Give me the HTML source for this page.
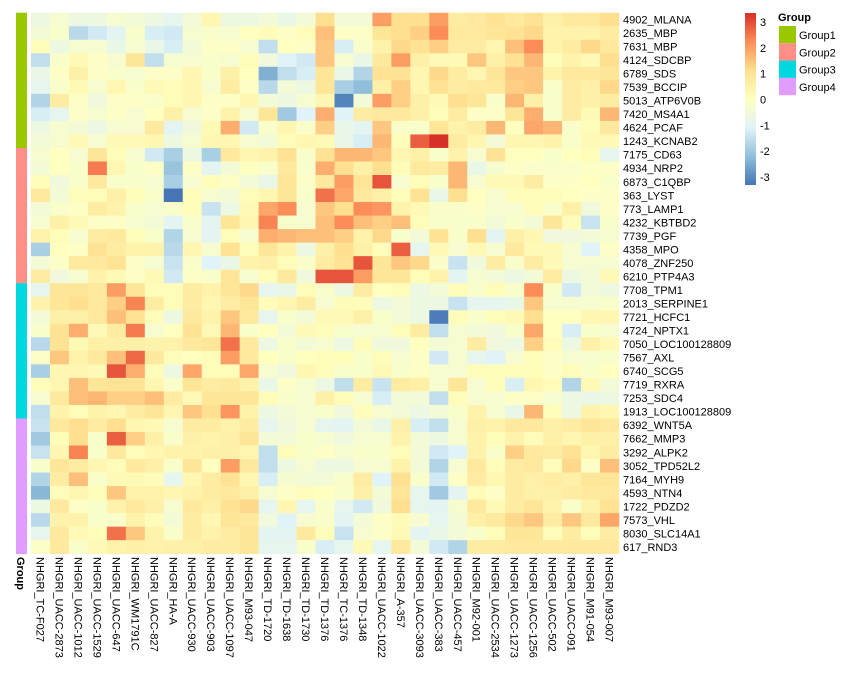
<!DOCTYPE html>
<html><head><meta charset="utf-8"><style>
html,body{margin:0;padding:0;background:#fff;width:860px;height:683px;overflow:hidden}
svg{display:block;font-family:"Liberation Sans",sans-serif}
</style></head><body>
<svg id="chart" width="860" height="683"></svg>
<script>
const cols=["NHGRI_TC-F027","NHGRI_UACC-2873","NHGRI_UACC-1012","NHGRI_UACC-1529","NHGRI_UACC-647","NHGRI_WM1791C","NHGRI_UACC-827","NHGRI_HA-A","NHGRI_UACC-930","NHGRI_UACC-903","NHGRI_UACC-1097","NHGRI_M93-047","NHGRI_TD-1720","NHGRI_TD-1638","NHGRI_TD-1730","NHGRI_TD-1376","NHGRI_TC-1376","NHGRI_TD-1348","NHGRI_UACC-1022","NHGRI_A-357","NHGRI_UACC-3093","NHGRI_UACC-383","NHGRI_UACC-457","NHGRI_M92-001","NHGRI_UACC-2534","NHGRI_UACC-1273","NHGRI_UACC-1256","NHGRI_UACC-502","NHGRI_UACC-091","NHGRI_M91-054","NHGRI_M93-007"];
const rows=["4902_MLANA","2635_MBP","7631_MBP","4124_SDCBP","6789_SDS","7539_BCCIP","5013_ATP6V0B","7420_MS4A1","4624_PCAF","1243_KCNAB2","7175_CD63","4934_NRP2","6873_C1QBP","363_LYST","773_LAMP1","4232_KBTBD2","7739_PGF","4358_MPO","4078_ZNF250","6210_PTP4A3","7708_TPM1","2013_SERPINE1","7721_HCFC1","4724_NPTX1","7050_LOC100128809","7567_AXL","6740_SCG5","7719_RXRA","7253_SDC4","1913_LOC100128809","6392_WNT5A","7662_MMP3","3292_ALPK2","3052_TPD52L2","7164_MYH9","4593_NTN4","1722_PDZD2","7573_VHL","8030_SLC14A1","617_RND3"];
const rowGroups=[1,1,1,1,1,1,1,1,1,1,2,2,2,2,2,2,2,2,2,2,3,3,3,3,3,3,3,3,3,3,4,4,4,4,4,4,4,4,4,4];
const groupNames=["Group1","Group2","Group3","Group4"];
const values=[
[-0.6,-0.3,-0.6,-0.6,-0.3,-0.4,-0.6,-0.8,-0.4,0.3,-0.6,-0.6,-0.4,-0.7,-0.4,1,-0.4,-0.4,1.8,1,1,1.8,0.6,0.7,0.9,0.7,0.9,0.5,0.7,0.7,1],
[-0.4,-0.2,-1.5,-1.2,-0.9,-0.2,-1.1,-1.2,-0.3,-0.2,-0.3,0,0.1,-0.1,0.1,1.4,-0.1,-0.1,0.8,1,1.2,2,0.7,0.7,0.8,0.9,1.1,0.4,0.4,0.4,0.6],
[0.1,-0.6,-0.3,-0.3,-0.7,-0.3,-0.7,-1.1,-0.4,-0.1,-0.1,-0.3,-1.4,0,-0.1,1.3,-1.1,-0.2,0.4,1.1,0.9,1.2,0.6,0.6,0.3,1.4,2.0,0.4,0.6,1.1,0.7],
[-1.4,-0.2,0.2,-0.1,-0.3,0.8,-1.4,-0.3,-0.3,-0.2,-0.3,0.1,-0.5,-1.0,-1.2,1.3,-0.3,-0.7,0.7,1.8,0.5,0.2,0.2,1.3,0.5,0.9,1.5,0.1,0.4,0.2,1],
[-0.7,-0.1,0.5,-0.1,-0.2,-0.3,-0.1,-0.1,0.3,-0.2,0.5,0,-2.2,-1.4,-1.1,0.8,-0.7,-1.6,0.9,0.9,0.3,1.1,0.6,0.3,0.8,1.3,1.3,0.4,0.7,0.7,0.8],
[-0.8,-0.2,0.2,-0.3,0.3,-0.2,0.2,0.1,0.3,-0.3,0.6,-0.1,-1.5,-0.4,-0.6,0.8,-1.7,-2.0,0.5,1.2,0.3,0.9,0.6,0.7,0.7,1.2,1.3,-0.2,0.6,0.5,1.1],
[-1.6,0.6,-0.1,-0.5,-0.1,-0.1,-0.2,0.1,0.3,-0.1,-0.1,0.3,-0.4,-0.6,-0.3,0.3,-2.8,-0.4,1.8,1.2,0.5,0.2,1.0,0.8,-0.2,1.5,0.5,-0.2,0.6,0.5,0.6],
[-1.1,-0.8,-0.1,-0.3,-0.1,-0.3,0,0.5,-0.3,-0.1,0.4,-0.3,0.8,-1.8,-1.0,1.6,-1.0,0.6,0.7,0.7,0.5,0.1,0.6,-0.1,-0.1,0.8,1.6,-0.2,0.6,0.2,1.5],
[-0.6,-0.3,-0.4,-0.6,-0.3,-0.3,0.7,-0.9,-0.5,0.2,1.6,-1.2,-0.2,0.3,-0.2,1.2,-0.7,-0.9,1.3,-0.2,-0.2,0.8,0.4,0.6,1.5,0,1.7,1.5,-0.2,0.1,0.7],
[-0.4,-0.3,0.2,-0.3,0.2,0.2,0.3,-0.6,-0.3,0.3,0.3,-0.3,-0.4,0.1,0.3,0.2,-0.7,-1.1,1.5,0.1,2.5,3.0,0.6,0.3,-0.4,0.3,0.3,0.4,-0.2,0.2,0.2],
[-0.3,0,-0.3,0.8,0.1,-0.3,-1.2,-1.7,-0.6,-1.7,0.7,0.3,0.4,0.9,-0.2,0.9,1.5,1.5,1.3,0.3,0.5,-0.2,0.4,-0.3,0.9,0,0,-0.2,0,0.1,-0.8],
[-0.4,0,-0.2,2.2,0.3,-0.2,-0.1,-1.9,-0.1,-0.9,-0.4,0,-0.2,0.7,-0.2,1.6,1.0,0.5,1.0,0.1,0.7,0.6,1.5,-0.7,-0.3,-0.1,-0.2,-0.2,-0.2,-0.1,-0.1],
[0.1,-0.5,-0.2,0.7,-0.2,-0.2,-0.3,-1.7,-0.3,0.1,-0.1,-0.4,-0.7,0.8,-0.1,0.7,1.8,0.8,2.6,-0.3,0.1,-0.2,1.5,-0.3,0.2,0.2,0.6,-0.1,-0.1,0,-0.2],
[0.7,-0.4,0.1,0.1,0.5,0.1,-0.2,-3.0,0.1,-0.3,-0.4,0.1,0.3,0.8,-0.2,2.3,1.7,0.7,0.5,0.1,0.9,-0.7,1.0,0,-0.3,0.1,0.1,0.1,0,-0.1,-0.1],
[-0.4,-0.2,-0.1,0.6,0.4,-0.2,-0.3,-0.2,0.1,-1.3,-0.6,0.2,1.7,2.0,-0.3,1.3,1.0,2.0,1.9,0.4,0.2,-0.2,-0.2,-0.1,-0.3,-0.3,0.1,-0.2,0.5,-0.5,-0.1],
[-0.3,0.5,0.2,-0.1,-0.1,-0.3,-0.4,-0.9,-0.2,-0.9,0.8,0.3,2.1,-0.2,-0.3,1.4,2.0,1.4,1.2,1.4,0.1,-0.2,-0.2,-0.2,-0.4,-0.2,-0.4,0.8,0.1,-1.3,-0.2],
[0.4,0.1,-0.3,0.6,0.7,0.1,-0.2,-1.6,-0.3,-0.9,0.1,-0.3,1.6,1.5,1.4,1.4,1.2,0.4,1.1,-0.2,-0.4,0.9,-0.2,1.0,-0.9,0.5,0.3,-0.5,-0.5,-0.4,-0.3],
[-1.7,0,-0.1,0.9,0.6,0.4,0.4,-1.5,0.3,-0.3,0.9,0.1,0.8,0.4,-0.6,0.5,1.0,0.5,0.1,2.5,-0.8,0.2,-0.3,0.2,-0.3,0.7,0.2,0.2,-0.3,-1.0,-0.1],
[-0.4,-0.1,0.7,0.7,0.9,-0.1,-0.3,-1.3,-0.2,-1.0,-0.7,0.4,0.5,0.1,-0.2,0.6,0.9,2.6,0.8,1.3,1.1,-0.2,-1.3,-0.5,0.6,-0.2,0.6,0.2,-0.3,-0.3,-0.3],
[0.6,-0.5,-0.3,0.4,0.2,-0.1,0.2,-1.2,-0.1,-0.2,0.8,-0.3,0.1,0.7,-0.5,2.6,2.6,1.8,0.8,0.8,0.1,0.4,-0.9,-0.3,-0.4,-0.6,-0.4,0.6,-0.6,-0.4,0.2],
[-0.8,0.8,0.8,0.7,1.8,0.8,0.1,0.1,0.6,0.4,0.8,1.1,-0.8,-0.7,0.1,-0.2,-0.6,0.6,0,0.1,-0.6,-0.4,0.1,-0.2,0.1,-0.2,2.0,-0.2,-1.2,-0.4,-0.6],
[0.4,0.8,1.0,0.7,1.2,2.1,0.6,0.1,0.6,0.3,0.6,0.8,0.1,0.3,0.6,-0.3,0.1,0.1,-0.6,-0.4,-0.6,-0.6,-1.3,-0.8,-0.8,-0.7,1.3,-0.3,-0.3,-0.3,-0.2],
[-0.4,0.5,0.5,0.7,1.4,0.9,0.1,-0.6,0.7,0.4,1.3,0.7,-0.8,-0.2,-0.4,0.2,0.2,0.5,-0.2,-0.4,-0.6,-2.9,0.1,-0.2,0.1,0.2,1.0,0,0,0.3,0.3],
[-0.2,0.9,1.6,0.2,0.6,2.2,-0.3,0,0.9,0.2,1.5,-0.2,0,-0.4,0.2,0.1,-0.2,-0.3,-0.3,0.1,0.6,-1.4,-0.3,-0.4,-0.5,-0.2,1.7,0,-1.1,-0.2,-0.3],
[-1.5,0.9,0.2,0.5,0.5,0.5,0.4,0.4,0.7,0.8,2.3,0.7,-0.6,-0.2,-0.4,-0.3,-0.6,0.1,-0.5,-0.5,0,-0.4,-0.3,0.6,-0.5,-0.6,1.2,0.1,-0.6,0.5,0.2],
[-0.1,1.3,0.4,0.7,1.4,2.4,0.7,0.1,0,0.1,1.8,0.7,0,-0.2,0,0.1,0.1,-0.2,0.1,-0.3,-0.1,-1.2,-0.3,-0.8,-1.0,-0.3,0.1,-0.1,-0.3,-0.3,-0.2],
[-1.7,0.3,0.3,0.2,2.6,1.6,0.1,-0.6,1.7,0.1,0.1,1.7,-0.3,-0.5,0.3,0.1,-0.2,-0.2,0.2,-0.2,-0.1,-0.3,-0.3,0.1,0.1,0.1,0.1,-0.1,0.1,-0.2,0],
[0.1,0.3,1.4,0.8,0.9,0.9,0.3,-0.2,0.8,0.6,0.7,0.4,-0.7,-0.1,-0.3,-0.6,-1.4,0.6,-1.3,0.6,0.5,-0.3,0.8,-0.3,0.1,-1.1,0.3,0.1,-1.6,0.2,-0.4],
[-0.3,0.7,1.4,1.5,1.2,1.2,1.4,0.6,0.2,0.8,0.8,0.8,0.1,-0.2,-0.3,0.5,0.1,-0.3,-1.1,-0.4,-0.4,-1.4,0.1,-0.3,-0.3,-0.1,-0.1,-0.3,-0.6,-0.7,-0.6],
[-1.4,0.4,0.1,0.4,0.3,0.6,0.8,0.3,1.3,1.0,1.9,0.4,-0.6,-0.4,-0.3,-0.2,-0.5,0.1,-0.3,-0.4,-0.6,-0.4,-0.2,0.4,-0.3,-0.7,1.5,0.1,-0.6,0.4,0.3],
[-1.3,0.7,1.0,0.6,1.0,0.3,0.2,-0.3,0.6,0.6,0.4,0.6,-0.8,-0.5,-0.3,-0.8,-0.9,-0.4,-0.7,0.5,-1.1,-1.4,-0.3,0.5,0.4,0.7,0.7,0.5,0.6,0.8,0.7],
[-1.8,0.1,1.0,-0.2,2.5,1.2,0.5,-0.2,0.5,0.4,0.5,0.8,-0.4,-0.4,-0.2,-0.3,-0.5,-0.3,-0.3,0.4,-0.4,-0.6,-0.3,0.4,0.1,0.4,0.1,0.5,0.3,0.5,0.5],
[-1.3,0.3,2.1,-0.2,0.7,0.1,0.3,0.4,0.4,0.5,0.5,0.3,-1.4,0.1,-0.2,-0.1,-0.3,-0.2,-0.2,0.1,-0.4,-1.2,-1.0,0.4,-0.2,1.2,0.7,0.6,0.9,0.3,0.6],
[-0.2,0.8,0.6,0.3,0.1,0.7,0.5,-0.2,0.8,0,1.8,0.7,-1.4,-0.6,-0.3,-0.6,-0.6,-0.3,-0.3,0.4,-0.4,-1.6,-0.3,0.7,0.1,0.6,0.7,0.1,1.1,-0.1,1.4],
[-1.6,0.6,1.4,-0.2,0.2,0.2,0.1,-0.8,0.3,0.6,0.9,0.3,-1.1,-0.3,-0.4,-0.4,-0.2,0.6,-1.0,1.0,-0.2,-1.2,-0.1,0.6,0.3,0.6,0.5,0.6,0.5,0.8,0.8],
[-2.1,0.1,0.3,0.1,1.3,0.4,0.4,0.3,0.4,0.6,0.7,0.5,-0.3,-0.1,0.1,0,-0.2,0.5,-0.4,0.8,-0.8,-1.8,-0.9,0.1,-0.1,0.6,0.5,0.5,0.6,0.7,0.7],
[-0.6,0.7,-0.1,-0.2,0.4,0.7,0.5,-0.3,0.7,0.5,0.9,1.1,-0.8,0.3,-0.8,-0.2,-0.8,-1.2,-0.5,1.0,-0.8,-0.9,-0.3,0.7,0.2,0.6,0.8,0.4,-0.2,0.4,0.9],
[-1.5,0.4,0.4,-0.2,-0.2,0.4,0.1,-0.4,0.6,0.3,0.8,0.7,-0.5,-1.0,-0.3,-0.2,-0.9,-0.4,-0.1,0.1,-0.3,-0.8,-0.4,0.5,0.7,1.1,1.3,0.6,1.3,0.7,1.7],
[-0.8,0.7,0.2,0.1,2.3,1.3,0.4,-0.2,0.6,0.4,0.6,0.8,-0.9,-0.9,0.7,0.1,-1.3,-0.3,-0.1,0.2,-0.9,-0.7,-0.4,-0.2,0.1,0.8,0.8,0.1,0.6,0.1,0.6],
[-0.1,0.7,-0.2,0.2,0.4,0.5,0.4,0.5,0.5,0.6,0.6,0.8,-0.8,-0.8,-0.2,-1.1,-0.8,0.2,-0.8,0.7,-0.4,-1.2,-1.6,0.6,0.6,0.7,0.7,0.7,0.7,0.7,0.7]
];
const legendTicks=[3,2,1,0,-1,-2,-3];

const NS="http://www.w3.org/2000/svg";
const svg=document.getElementById('chart');
const X0=31,Y0=12.7,CW=(619-31)/cols.length,RH=(553.7-12.7)/rows.length;
const stops=[[-3,[69,117,180]],[-2,[145,191,219]],[-1,[224,243,248]],[0,[255,255,191]],[1,[254,224,144]],[2,[252,141,89]],[3,[215,48,39]]];
function color(v){v=Math.max(-3,Math.min(3,v));for(let i=0;i<stops.length-1;i++){const a=stops[i],b=stops[i+1];if(v<=b[0]){const t=(v-a[0])/(b[0]-a[0]);const c=a[1].map((x,k)=>Math.round(x+(b[1][k]-x)*t));return `rgb(${c})`;}}return 'rgb(215,48,39)';}
const groupColors=["#99c800","#ff8f86","#00d8e0","#e09cff"];
function xS(i){return X0+i*CW;}
function yS(j){return Y0+j*RH;}
function mk(tag,attrs){const e=document.createElementNS(NS,tag);for(const k in attrs)e.setAttribute(k,attrs[k]);svg.appendChild(e);return e;}
function yL(v){return 177-(v+3)*(177-22)/6;}

values.forEach((row,j)=>row.forEach((v,i)=>{
  const r=mk('rect',{x:xS(i),y:yS(j),width:CW+0.3,height:RH+0.3,fill:color(v)});
  
  
}));
rowGroups.forEach((g,j)=>{
  const r=mk('rect',{x:16,y:yS(j),width:11,height:RH+0.3,fill:groupColors[g-1]});
  
  
});
rows.forEach((n,j)=>{
  const t=mk('text',{x:623,y:yS(j)+RH/2+4,'font-size':'11',fill:'#000'});t.textContent=n;
  
  
});
cols.forEach((n,i)=>{
  const cx=xS(i)+CW/2-4;
  const t=mk('text',{x:0,y:0,'font-size':'11',fill:'#000',transform:`translate(${cx},557) rotate(90)`});t.textContent=n;
  
  
});
const ga=mk('text',{x:0,y:0,'font-size':'11','font-weight':'bold',transform:'translate(17,557) rotate(90)'});ga.textContent='Group';



// colorbar
const defs=mk('defs',{});
const lg=document.createElementNS(NS,'linearGradient');lg.setAttribute('id','cb');lg.setAttribute('x1','0');lg.setAttribute('y1','1');lg.setAttribute('x2','0');lg.setAttribute('y2','0');defs.appendChild(lg);
stops.forEach(s=>{const st=document.createElementNS(NS,'stop');st.setAttribute('offset',((s[0]+3)/6*100)+'%');st.setAttribute('stop-color',`rgb(${s[1]})`);lg.appendChild(st);});
const cb=mk('rect',{x:745,y:13,width:11,height:172,fill:'url(#cb)'});


legendTicks.forEach(v=>{
  const t=mk('text',{x:760,y:yL(v)+4,'font-size':'11'});t.textContent=v;
  
  
});
const gt=mk('text',{x:778,y:21,'font-size':'11','font-weight':'bold'});gt.textContent='Group';


groupNames.forEach((n,k)=>{
  const r=mk('rect',{x:779,y:26+k*17.3,width:17,height:17.3,fill:groupColors[k]});
  
  
  const t=mk('text',{x:799,y:39+k*17.3,'font-size':'11'});t.textContent=n;
  
  
});
</script>
</body></html>
